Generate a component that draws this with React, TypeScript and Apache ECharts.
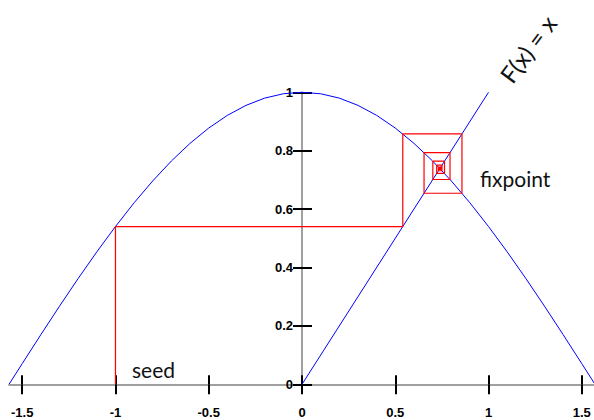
import React, { useEffect, useRef } from "react";
import * as echarts from "echarts";

// cos curve
const curveX = [-1.5708, -1.5, -1.4, -1.3, -1.2, -1.1, -1.0, -0.9, -0.8, -0.7, -0.6, -0.5, -0.4, -0.3, -0.2, -0.1, 0,
  0.1, 0.2, 0.3, 0.4, 0.5, 0.6, 0.7, 0.8, 0.9, 1.0, 1.1, 1.2, 1.3, 1.4, 1.5, 1.5708];
const curveY = [0, 0.0707, 0.17, 0.2675, 0.3624, 0.4536, 0.5403, 0.6216, 0.6967, 0.7648, 0.8253, 0.8776, 0.9211, 0.9553, 0.9801, 0.995, 1,
  0.995, 0.9801, 0.9553, 0.9211, 0.8776, 0.8253, 0.7648, 0.6967, 0.6216, 0.5403, 0.4536, 0.3624, 0.2675, 0.17, 0.0707, 0];

// identity line F(x) = x
const diagX = [0, 1];
const diagY = [0, 1];

// cobweb iterates starting at the seed
const iterates = [-1, 0.5403, 0.8576, 0.6543, 0.7935, 0.7014, 0.764, 0.7221, 0.7504, 0.7314, 0.7442, 0.7356, 0.7414, 0.7375];

const xTicks = [-1.5, -1, -0.5, 0, 0.5, 1, 1.5];
const yTicks = [0, 0.2, 0.4, 0.6, 0.8, 1];

const labelFont = { fontFamily: "Liberation Sans, Arial, sans-serif", fontWeight: "bold" as const, fontSize: 13, color: "#000" };
const annoFont = "21px Lato, 'Open Sans', sans-serif";

const GRID_LEFT = 9;
const GRID_WIDTH = 586;

export default function App() {
  const ref = useRef<HTMLDivElement>(null);
  useEffect(() => {
    if (!ref.current) return;
    const chart = echarts.init(ref.current, undefined, { renderer: "svg" });
    const curve = curveX.map((x, i) => [x, curveY[i]]);
    const diag = diagX.map((x, i) => [x, diagY[i]]);
    const web: number[][] = [[iterates[0], 0]];
    for (let i = 0; i < iterates.length - 1; i++) {
      web.push([iterates[i], iterates[i + 1]]);
      web.push([iterates[i + 1], iterates[i + 1]]);
    }
    const xMin = curveX[0];
    const xMax = curveX[curveX.length - 1];
    // y axis sits at x = 0, i.e. the middle of the symmetric x range
    const yAxisOffset = -(GRID_WIDTH * (0 - xMin)) / (xMax - xMin);
    chart.setOption({
      animation: false,
      backgroundColor: "#fff",
      grid: { left: GRID_LEFT, top: 92.3, width: GRID_WIDTH, height: 292, containLabel: false, outerBoundsMode: "none" },
      xAxis: [
        {
          type: "value", min: xMin, max: xMax, position: "bottom",
          axisLine: { show: true, onZero: false, lineStyle: { color: "#808080", width: 1.5 } },
          axisTick: { show: true, inside: false, length: 10, customValues: xTicks, lineStyle: { color: "#000", width: 2 } },
          axisLabel: { ...labelFont, margin: 22, customValues: xTicks, formatter: (v: number) => String(v) },
          splitLine: { show: false },
        },
        {
          type: "value", min: xMin, max: xMax, position: "bottom",
          axisLine: { show: false, onZero: false },
          axisTick: { show: true, inside: true, length: 9, customValues: xTicks, lineStyle: { color: "#000", width: 2 } },
          axisLabel: { show: false },
          splitLine: { show: false },
        },
      ],
      yAxis: [
        {
          type: "value", min: 0, max: 1, position: "left", offset: yAxisOffset,
          axisLine: { show: true, onZero: false, lineStyle: { color: "#808080", width: 1.5 } },
          axisTick: { show: true, inside: false, length: 9, customValues: yTicks, lineStyle: { color: "#000", width: 2 } },
          axisLabel: { ...labelFont, margin: 9, customValues: yTicks, formatter: (v: number) => String(v) },
          splitLine: { show: false },
        },
        {
          type: "value", min: 0, max: 1, position: "left", offset: yAxisOffset,
          axisLine: { show: false, onZero: false },
          axisTick: { show: true, inside: true, length: 10, customValues: yTicks, lineStyle: { color: "#000", width: 2 } },
          axisLabel: { show: false },
          splitLine: { show: false },
        },
      ],
      series: [
        {
          type: "line", data: curve, showSymbol: false, symbol: "none", clip: false,
          lineStyle: { color: "#0000ff", width: 1 }, xAxisIndex: 0, yAxisIndex: 0,
        },
        {
          type: "line", data: diag, showSymbol: false, symbol: "none", clip: false,
          lineStyle: { color: "#0000ff", width: 1 }, xAxisIndex: 0, yAxisIndex: 0,
        },
        {
          type: "line", data: web, showSymbol: false, symbol: "none", clip: false,
          lineStyle: { color: "#ff0000", width: 1.2 }, xAxisIndex: 0, yAxisIndex: 0,
        },
      ],
      graphic: [
        { type: "text", x: 132, y: 369, style: { text: "seed", font: annoFont, fill: "#111", align: "left", verticalAlign: "middle" } },
        { type: "text", x: 480, y: 178, style: { text: "fixpoint", font: annoFont, fill: "#111", align: "left", verticalAlign: "middle" } },
        {
          type: "text", x: 528, y: 49, rotation: 0.93,
          style: { text: "F(x) = x", font: "24px Lato, 'Open Sans', sans-serif", fill: "#111", align: "center", verticalAlign: "middle" },
        },
      ],
    });
    return () => chart.dispose();
  }, []);
  return <div ref={ref} style={{ position: "fixed", left: 0, top: 0, width: 594, height: 420 }} />;
}
